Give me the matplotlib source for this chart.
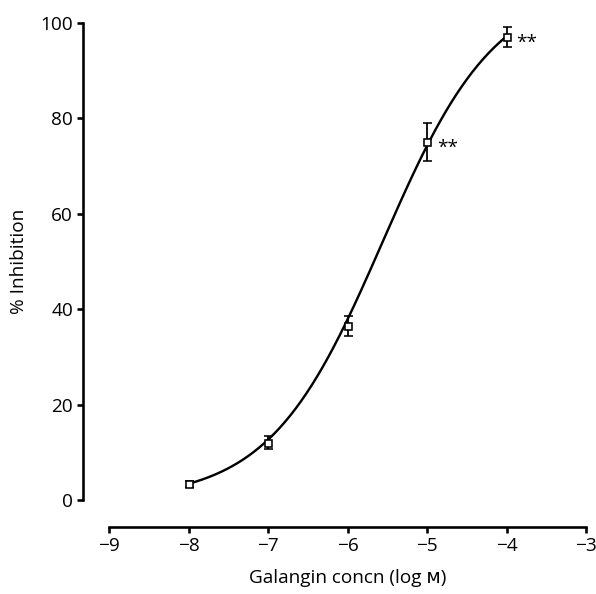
import numpy as np
import matplotlib
matplotlib.use("Agg")
import matplotlib.pyplot as plt

plt.rcParams['font.family'] = ['Open Sans', 'DejaVu Sans']

# data
log_conc = [-8, -7, -6, -5, -4]
inhibition = [3.3, 12.0, 36.5, 75.0, 97.0]
sem = [0.6, 1.4, 2.1, 4.0, 2.1]
signif = ['', '', '', '**', '**']

# sigmoidal fit parameters (bottom, top, logEC50, hill slope)
fit_bottom = 0.0
fit_top = 108.0
fit_logec50 = -5.56
fit_hill = 0.61

dpi = 72
fig = plt.figure(figsize=(596 / dpi, 594 / dpi), dpi=dpi)
ax = fig.add_axes([109 / 596, 94 / 594, 477 / 596, 477.3 / 594])

xs = np.linspace(log_conc[0], log_conc[-1], 300)
ys = fit_bottom + (fit_top - fit_bottom) / (1 + 10 ** ((fit_logec50 - xs) * fit_hill))
ax.plot(xs, ys, color='black', lw=2.4, zorder=2)

ax.errorbar(log_conc, inhibition, yerr=sem, fmt='s', ms=7, mfc='white', mec='black',
            mew=1.6, ecolor='black', elinewidth=1.8, capsize=4.5, capthick=1.8, zorder=3)

for x, y, s in zip(log_conc, inhibition, signif):
    if s:
        ax.annotate(s, (x, y), xytext=(10, -6), textcoords='offset points',
                    fontsize=19, ha='left', va='center')

ax.set_xlim(-9, -3)
ax.set_ylim(0, 100)
ax.set_xticks(range(-9, -2))
ax.set_yticks(range(0, 101, 20))

for side in ['top', 'right']:
    ax.spines[side].set_visible(False)
ax.spines['left'].set_position(('outward', 26))
ax.spines['bottom'].set_position(('outward', 27))
ax.spines['left'].set_linewidth(2.6)
ax.spines['bottom'].set_linewidth(2.6)
ax.tick_params(width=2.6, length=6, labelsize=19, pad=4)

ax.set_xlabel('Galangin concn (log ᴍ)', fontsize=19, labelpad=14)
ax.set_ylabel('% Inhibition', fontsize=19, labelpad=12)

fig.savefig('out.png', dpi=dpi)
